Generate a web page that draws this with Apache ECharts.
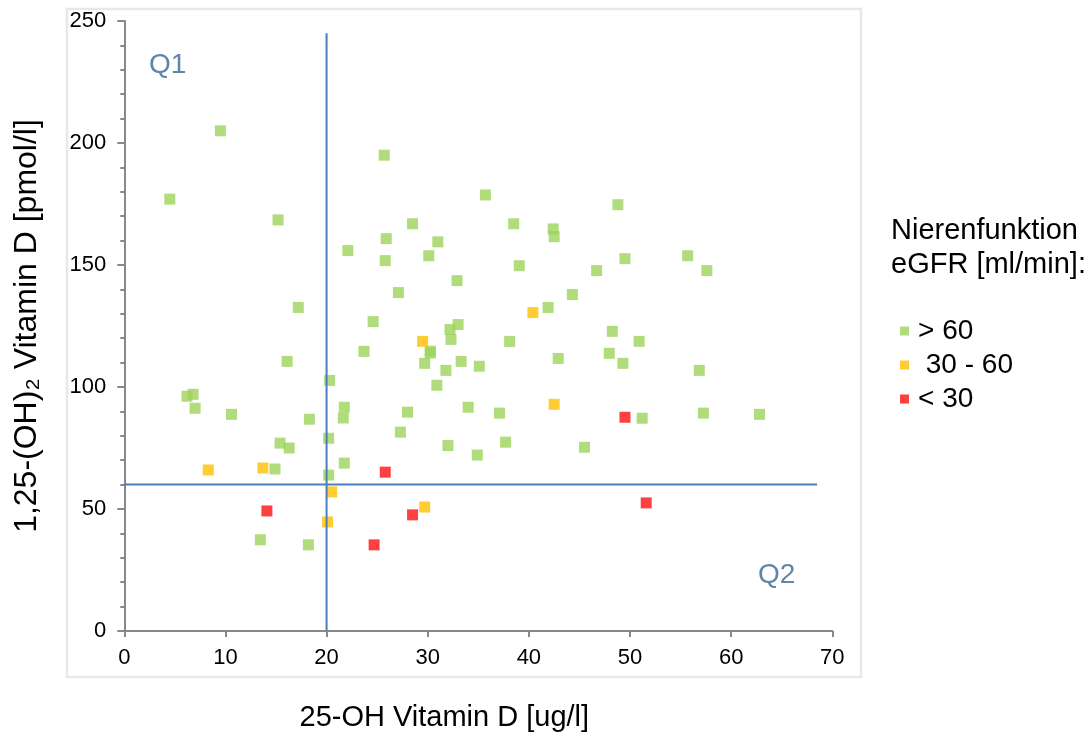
<!DOCTYPE html>
<html>
<head>
<meta charset="utf-8">
<script src="https://cdn.jsdelivr.net/npm/echarts@6/dist/echarts.min.js"></script>
<style>
  html, body { margin: 0; padding: 0; background: #fff; }
  #chart { width: 1091px; height: 737px; }
</style>
</head>
<body>
<div id="chart"></div>
<script>
// eGFR > 60
const greenPoints = [
  [9.5, 205], [4.5, 177], [15.2, 168.5], [25.7, 195], [35.7, 178.7], [28.5, 166.9],
  [38.5, 166.9], [42.4, 164.8], [42.5, 161.6], [25.9, 160.8], [31.0, 159.5], [48.8, 174.7],
  [22.1, 155.9], [17.2, 132.6], [23.7, 114.6], [16.1, 110.5], [20.3, 102.7], [6.2, 96.2],
  [6.8, 97.0], [7.0, 91.3], [10.6, 88.8], [18.3, 86.8], [21.75, 91.7], [21.65, 87.3],
  [20.2, 79.0], [15.4, 77.0], [16.3, 75.0], [21.75, 68.8], [20.2, 63.9], [14.9, 66.4],
  [13.45, 37.4], [18.2, 35.3], [25.8, 151.8], [30.1, 153.8], [39.05, 149.7], [46.7, 147.7],
  [32.9, 143.6], [27.1, 138.7], [44.3, 137.9], [41.9, 132.6], [24.6, 126.8], [33.0, 125.6],
  [32.2, 123.6], [32.3, 119.5], [38.1, 118.7], [30.25, 114.7], [30.25, 113.9], [29.7, 109.7],
  [33.3, 110.5], [31.8, 106.8], [35.1, 108.5], [42.9, 111.7], [30.9, 100.7], [28.0, 89.7],
  [34.0, 91.7], [37.1, 89.3], [27.3, 81.5], [32.0, 76.0], [37.7, 77.4], [45.5, 75.3],
  [34.9, 72.1], [49.5, 152.6], [55.7, 153.8], [57.6, 147.7], [48.25, 122.8], [50.9, 118.7],
  [47.95, 113.8], [49.3, 109.7], [56.85, 106.8], [51.2, 87.2], [57.25, 89.3], [62.8, 88.8]
];
// eGFR 30 - 60
const yellowPoints = [
  [8.3, 66.0], [13.7, 66.8], [20.5, 57.0], [20.1, 44.7], [29.7, 50.8], [29.5, 118.7],
  [40.4, 130.5], [42.5, 92.9]
];
// eGFR < 30
const redPoints = [
  [14.1, 49.2], [25.8, 65.1], [28.5, 47.6], [24.7, 35.3], [49.5, 87.6], [51.6, 52.5]
];

// quadrant lines and labels
const verticalLine = [[20, 0], [20, 245]];
const horizontalLine = [[0, 60], [68.5, 60]];
const quadrantLabels = [
  { name: "Q1", value: [2.4, 232] },
  { name: "Q2", value: [62.6, 23] }
];

const seriesNames = ["> 60", " 30 - 60", "< 30"];

const font = "'Liberation Sans', Arial, sans-serif";
const lineBlue = "#4a7ebb";

const chart = echarts.init(document.getElementById("chart"));

const option = {
  animation: false,
  textStyle: { fontFamily: font },
  title: {
    text: "Nierenfunktion\neGFR [ml/min]:",
    left: 891,
    top: 214,
    padding: 0,
    textStyle: {
      fontFamily: font,
      fontSize: 29,
      lineHeight: 34,
      fontWeight: "normal",
      color: "#000"
    }
  },
  legend: {
    orient: "vertical",
    left: 900,
    top: 314,
    padding: 0,
    itemGap: 0,
    itemWidth: 9,
    itemHeight: 9,
    icon: "rect",
    data: seriesNames,
    textStyle: {
      fontFamily: font,
      fontSize: 28,
      lineHeight: 34,
      color: "#000",
      padding: [0, 0, 0, 4]
    }
  },
  graphic: [
    {
      type: "rect",
      z: -10,
      shape: { x: 67, y: 9, width: 794, height: 668 },
      style: { fill: "none", stroke: "#e8e8e8", lineWidth: 2.5 }
    }
  ],
  grid: {
    left: 124.3,
    right: 258.7,
    top: 21,
    bottom: 104.3
  },
  xAxis: {
    type: "value",
    min: 0,
    max: 70,
    interval: 10,
    name: "25-OH Vitamin D [ug/l]",
    nameLocation: "middle",
    nameGap: 72,
    nameTextStyle: {
      fontFamily: font,
      fontSize: 29,
      color: "#000",
      padding: [0, 68, 0, 0]
    },
    axisLine: { lineStyle: { color: "#888", width: 2 } },
    axisTick: { show: true, length: 6, lineStyle: { color: "#888", width: 2 } },
    axisLabel: { fontSize: 22, color: "#000", margin: 16, fontFamily: font },
    splitLine: { show: false }
  },
  yAxis: {
    type: "value",
    min: 0,
    max: 250,
    interval: 50,
    name: "1,25-(OH)\u2082 Vitamin D [pmol/l]",
    nameLocation: "middle",
    nameGap: 81,
    nameTextStyle: { fontFamily: font, fontSize: 32, color: "#000" },
    axisLine: { show: true, lineStyle: { color: "#888", width: 2 } },
    axisTick: { show: true, length: 7, lineStyle: { color: "#888", width: 2 } },
    minorTick: { show: true, splitNumber: 5, length: 4, lineStyle: { color: "#888", width: 2 } },
    axisLabel: { fontSize: 22, color: "#000", margin: 18, fontFamily: font },
    splitLine: { show: false }
  },
  series: [
    {
      name: seriesNames[0],
      type: "scatter",
      symbol: "rect",
      symbolSize: 11,
      itemStyle: { color: "#9cd35b", opacity: 0.8 },
      data: greenPoints
    },
    {
      name: seriesNames[1],
      type: "scatter",
      symbol: "rect",
      symbolSize: 11,
      itemStyle: { color: "#ffc000", opacity: 0.8 },
      data: yellowPoints
    },
    {
      name: seriesNames[2],
      type: "scatter",
      symbol: "rect",
      symbolSize: 11,
      itemStyle: { color: "#ff0000", opacity: 0.75 },
      data: redPoints
    },
    {
      type: "line",
      symbol: "none",
      silent: true,
      z: 5,
      lineStyle: { color: lineBlue, width: 2 },
      data: verticalLine
    },
    {
      type: "line",
      symbol: "none",
      silent: true,
      z: 5,
      lineStyle: { color: lineBlue, width: 2 },
      data: horizontalLine
    },
    {
      type: "scatter",
      symbolSize: 1,
      silent: true,
      itemStyle: { color: "transparent" },
      label: {
        show: true,
        position: "right",
        distance: 0,
        formatter: "{b}",
        fontFamily: font,
        fontSize: 28,
        color: "#3a6595"
      },
      data: quadrantLabels
    }
  ]
};

chart.setOption(option);
</script>
</body>
</html>
